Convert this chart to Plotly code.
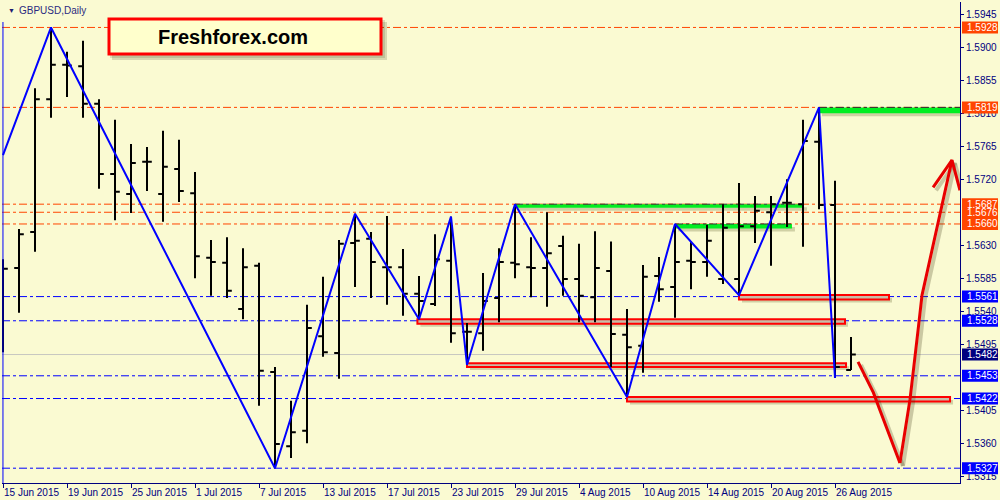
import plotly.graph_objects as go

# ---------------- data ----------------
bar_idx = list(range(54))
opens = [1.5560, 1.5600, 1.5649, 1.5830, 1.5877, 1.5875, 1.5824, 1.5728, 1.5701, 1.5745,
         1.5701, 1.5735, 1.5702, 1.5614, 1.5607, 1.5544, 1.5603, 1.5458, 1.5357, 1.5378,
         1.5507, 1.5484, 1.5634, 1.5640, 1.5601, 1.5601, 1.5565, 1.5551, 1.5610, 1.5513,
         1.5511, 1.5559, 1.5607, 1.5601, 1.5600, 1.5630, 1.5585, 1.5560, 1.5596, 1.5509,
         1.5494, 1.5589, 1.5574, 1.5610, 1.5608, 1.5585, 1.5585, 1.5657, 1.5676, 1.5689,
         1.5687, 1.5772, 1.5686, 1.5461]
highs = [1.5612, 1.5653, 1.5845, 1.5928, 1.5895, 1.5910, 1.5830, 1.5802, 1.5769, 1.5765,
         1.5787, 1.5775, 1.5731, 1.5638, 1.5642, 1.5627, 1.5607, 1.5465, 1.5419, 1.5550,
         1.5588, 1.5638, 1.5674, 1.5649, 1.5671, 1.5626, 1.5589, 1.5646, 1.5670, 1.5525,
         1.5593, 1.5627, 1.5687, 1.5642, 1.5676, 1.5644, 1.5633, 1.5650, 1.5636, 1.5544,
         1.5604, 1.5615, 1.5660, 1.5636, 1.5659, 1.5687, 1.5716, 1.5698, 1.5698, 1.5721,
         1.5802, 1.5819, 1.5719, 1.5506]
lows = [1.5485, 1.5539, 1.5622, 1.5805, 1.5833, 1.5805, 1.5708, 1.5665, 1.5675, 1.5705,
        1.5663, 1.5690, 1.5586, 1.5562, 1.5559, 1.5530, 1.5412, 1.5327, 1.5341, 1.5361,
        1.5479, 1.5449, 1.5574, 1.5559, 1.5550, 1.5535, 1.5530, 1.5548, 1.5498, 1.5468,
        1.5487, 1.5526, 1.5586, 1.5560, 1.5547, 1.5562, 1.5526, 1.5526, 1.5465, 1.5424,
        1.5457, 1.5554, 1.5532, 1.5571, 1.5588, 1.5578, 1.5563, 1.5634, 1.5603, 1.5656,
        1.5629, 1.5680, 1.5450, 1.5461]
closes = [1.5599, 1.5646, 1.5830, 1.5877, 1.5876, 1.5824, 1.5728, 1.5704, 1.5743, 1.5745,
          1.5738, 1.5705, 1.5616, 1.5608, 1.5569, 1.5601, 1.5460, 1.5360, 1.5376, 1.5518,
          1.5485, 1.5633, 1.5637, 1.5608, 1.5601, 1.5565, 1.5555, 1.5612, 1.5511, 1.5513,
          1.5555, 1.5608, 1.5605, 1.5600, 1.5620, 1.5585, 1.5562, 1.5600, 1.5510, 1.5492,
          1.5588, 1.5571, 1.5608, 1.5608, 1.5637, 1.5655, 1.5657, 1.5678, 1.5687, 1.5689,
          1.5773, 1.5686, 1.5465, 1.5482]

zigzag_idx = [0, 3, 17, 22, 26, 28, 29, 32, 39, 42, 46, 51, 52]
zigzag_price = [1.5754, 1.5928, 1.5327, 1.5674, 1.5530, 1.5670, 1.5468, 1.5687, 1.5424,
                1.5660, 1.5563, 1.5819, 1.5450]

tick_idx = [0, 4, 8, 12, 16, 20, 24, 28, 32, 36, 40, 44, 48, 52]
tick_text = ["15 Jun 2015", "19 Jun 2015", "25 Jun 2015", "1 Jul 2015", "7 Jul 2015",
             "13 Jul 2015", "17 Jul 2015", "23 Jul 2015", "29 Jul 2015", "4 Aug 2015",
             "10 Aug 2015", "14 Aug 2015", "20 Aug 2015", "26 Aug 2015"]
price_ticks = [1.5945, 1.5900, 1.5855, 1.5810, 1.5765, 1.5720, 1.5630, 1.5585, 1.5540,
               1.5495, 1.5405, 1.5360, 1.5315]

orange_levels = [1.5928, 1.5819, 1.5687, 1.5676, 1.5660]
blue_levels = [1.5561, 1.5528, 1.5453, 1.5422, 1.5327]
bid_price = 1.5482

# rectangles: (start bar, end bar, top price, bottom price)
green_boxes = [(51, 59.9, 1.5819, 1.5811), (32, 50.06, 1.5687, 1.5682), (42, 49.31, 1.5660, 1.5654)]
red_boxes = [(46, 55.375, 1.5563, 1.5557), (25.9, 52.625, 1.5530, 1.5524),
             (29, 52.69, 1.5470, 1.5465), (39, 59.19, 1.5424, 1.5418)]

arrow_down_idx = [53.44, 53.9, 54.4, 54.81, 55.44, 56.06]
arrow_down_price = [1.5472, 1.5452, 1.5430, 1.5406, 1.5370, 1.5334]
arrow_up_idx = [56.06, 56.69, 57.19, 57.44, 59.31]
arrow_up_price = [1.5334, 1.5421, 1.5515, 1.5563, 1.5747]
arrow_head_idx = [58.13, 59.31, 59.81]
arrow_head_price = [1.5710, 1.5747, 1.5706]

# ---------------- style ----------------
W, H = 1000, 500
ML, MR, MT, MB = 2, 40, 2, 17
PW, PH = W - ML - MR, H - MT - MB
BG = "#FAFAD2"
NAVY = "#000080"
ORANGE = "#FF4500"
BLUE = "#0000FF"
X_RANGE = [-0.0625, 59.8125]
Y_RANGE = [1.53068, 1.59627]
px_per_bar = PW / (X_RANGE[1] - X_RANGE[0])
price_per_px = (Y_RANGE[1] - Y_RANGE[0]) / PH
FONT = "Tahoma, Liberation Sans, DejaVu Sans, sans-serif"
DASH = "8px,3px,3px,3px"


def px_x(px):
    return (px - ML) / PW


def px_y(py):
    return (H - MB - py) / PH


fig = go.Figure()

shapes = []
# horizontal level lines
for p in orange_levels:
    shapes.append(dict(type="line", xref="paper", yref="y", x0=0, x1=1, y0=p, y1=p,
                       line=dict(color=ORANGE, width=1, dash=DASH), layer="below"))
for p in blue_levels:
    shapes.append(dict(type="line", xref="paper", yref="y", x0=0, x1=1, y0=p, y1=p,
                       line=dict(color=BLUE, width=1, dash=DASH), layer="below"))
shapes.append(dict(type="line", xref="paper", yref="y", x0=0, x1=1, y0=bid_price, y1=bid_price,
                   line=dict(color="#C8C8C0", width=1), layer="below"))

sx = 3 / px_per_bar
sy = 3 * price_per_px
# green boxes
for (a, b, top, bot) in green_boxes:
    shapes.append(dict(type="rect", xref="x", yref="y", x0=a + sx, x1=b + sx, y0=bot - sy, y1=top - sy,
                       fillcolor="rgba(60,60,0,0.22)", line=dict(width=0), layer="below"))
    shapes.append(dict(type="rect", xref="x", yref="y", x0=a, x1=b, y0=bot, y1=top,
                       fillcolor="#00EE22", line=dict(width=0), layer="below"))
    shapes.append(dict(type="line", xref="x", yref="y", x0=a, x1=b, y0=top, y1=top,
                       line=dict(color="#303030", width=1, dash=DASH), layer="below"))
# red boxes
for (a, b, top, bot) in red_boxes:
    shapes.append(dict(type="rect", xref="x", yref="y", x0=a + sx, x1=b + sx, y0=bot - sy, y1=top - sy,
                       fillcolor="rgba(60,60,0,0.22)", line=dict(width=0), layer="below"))
    shapes.append(dict(type="rect", xref="x", yref="y", x0=a, x1=b, y0=bot, y1=top,
                       fillcolor="#C8BCA8", line=dict(color="#FF0000", width=2), layer="below"))

# frame: left border
shapes.append(dict(type="line", xref="paper", yref="paper", x0=0.001, x1=0.001, y0=0, y1=px_y(22),
                   line=dict(color=BLUE, width=1)))

# logo box with shadow
shapes.append(dict(type="rect", xref="paper", yref="paper", x0=px_x(112), x1=px_x(387),
                   y0=px_y(60), y1=px_y(22), fillcolor="rgba(60,60,20,0.18)", line=dict(width=0)))
shapes.append(dict(type="rect", xref="paper", yref="paper", x0=px_x(110), x1=px_x(385),
                   y0=px_y(58), y1=px_y(20), fillcolor="rgba(60,60,20,0.15)", line=dict(width=0)))
shapes.append(dict(type="rect", xref="paper", yref="paper", x0=px_x(109), x1=px_x(381),
                   y0=px_y(54), y1=px_y(19), fillcolor="#FFFFCC", line=dict(color="#FF0000", width=3)))

# right-side price labels
half = 6 * price_per_px
label_specs = [(p, ORANGE) for p in orange_levels] + [(p, BLUE) for p in blue_levels] + [(bid_price, NAVY)]
for p, col in label_specs:
    shapes.append(dict(type="rect", xref="paper", yref="y", x0=px_x(962), x1=px_x(998),
                       y0=p - half, y1=p + half, fillcolor=col, line=dict(width=0), layer="above"))

annotations = []
for p, col in label_specs:
    annotations.append(dict(xref="paper", yref="y", x=px_x(965), y=p, xanchor="left", yanchor="middle",
                            text=f"{p:.4f}", showarrow=False,
                            font=dict(family=FONT, size=10, color="white")))
annotations.append(dict(xref="paper", yref="paper", x=px_x(233), y=px_y(37), xanchor="center",
                        yanchor="middle", text="<b>Freshforex.com</b>", showarrow=False,
                        font=dict(family="Liberation Sans, Arial, sans-serif", size=20, color="black")))
annotations.append(dict(xref="paper", yref="paper", x=px_x(6), y=px_y(10), xanchor="left",
                        yanchor="middle", text="▼", showarrow=False,
                        font=dict(family=FONT, size=7, color="#1C1C70")))
annotations.append(dict(xref="paper", yref="paper", x=px_x(17), y=px_y(10), xanchor="left",
                        yanchor="middle", text="GBPUSD,Daily", showarrow=False,
                        font=dict(family=FONT, size=10, color="#2A2A80")))

# ---------------- traces ----------------
fig.add_trace(go.Ohlc(x=bar_idx, open=opens, high=highs, low=lows, close=closes,
                      increasing=dict(line=dict(color="black", width=2)),
                      decreasing=dict(line=dict(color="black", width=2)),
                      line=dict(width=2), tickwidth=0.3, hoverinfo="skip", showlegend=False))
fig.add_trace(go.Scatter(x=zigzag_idx, y=zigzag_price, mode="lines",
                         line=dict(color=BLUE, width=2), hoverinfo="skip", showlegend=False))

# red arrow with shadow
for dx, dy, col, w in [(sx, -sy, "rgba(60,50,20,0.25)", 4), (0, 0, "#E80000", 3)]:
    for xs, ys in [(arrow_down_idx, arrow_down_price), (arrow_up_idx, arrow_up_price),
                   (arrow_head_idx, arrow_head_price)]:
        fig.add_trace(go.Scatter(x=[v + dx for v in xs], y=[v + dy for v in ys], mode="lines",
                                 line=dict(color=col, width=w),
                                 hoverinfo="skip", showlegend=False, cliponaxis=True))

fig.update_layout(
    width=W, height=H, autosize=False,
    margin=dict(l=ML, r=MR, t=MT, b=MB, pad=0),
    paper_bgcolor=BG, plot_bgcolor=BG,
    shapes=shapes, annotations=annotations,
    showlegend=False, hovermode=False,
    xaxis=dict(range=X_RANGE, showgrid=False, zeroline=False, rangeslider=dict(visible=False),
               tickmode="array", tickvals=tick_idx, ticktext=tick_text,
               ticks="outside", ticklen=4, tickcolor=NAVY, tickwidth=1,
               ticklabelposition="outside right", tickangle=0,
               showline=True, linecolor=NAVY, linewidth=1,
               tickfont=dict(family=FONT, size=10, color=NAVY)),
    yaxis=dict(range=Y_RANGE, side="right", showgrid=False, zeroline=False,
               tickmode="array", tickvals=price_ticks, ticktext=[f"{v:.4f}" for v in price_ticks],
               ticks="outside", ticklen=3, tickcolor=NAVY, tickwidth=1,
               showline=True, linecolor=NAVY, linewidth=1,
               tickfont=dict(family=FONT, size=10, color=NAVY)),
)

fig.write_html("out.html", config={"displayModeBar": False, "staticPlot": True},
               post_script="document.body.style.margin='0';document.body.style.overflow='hidden';")
